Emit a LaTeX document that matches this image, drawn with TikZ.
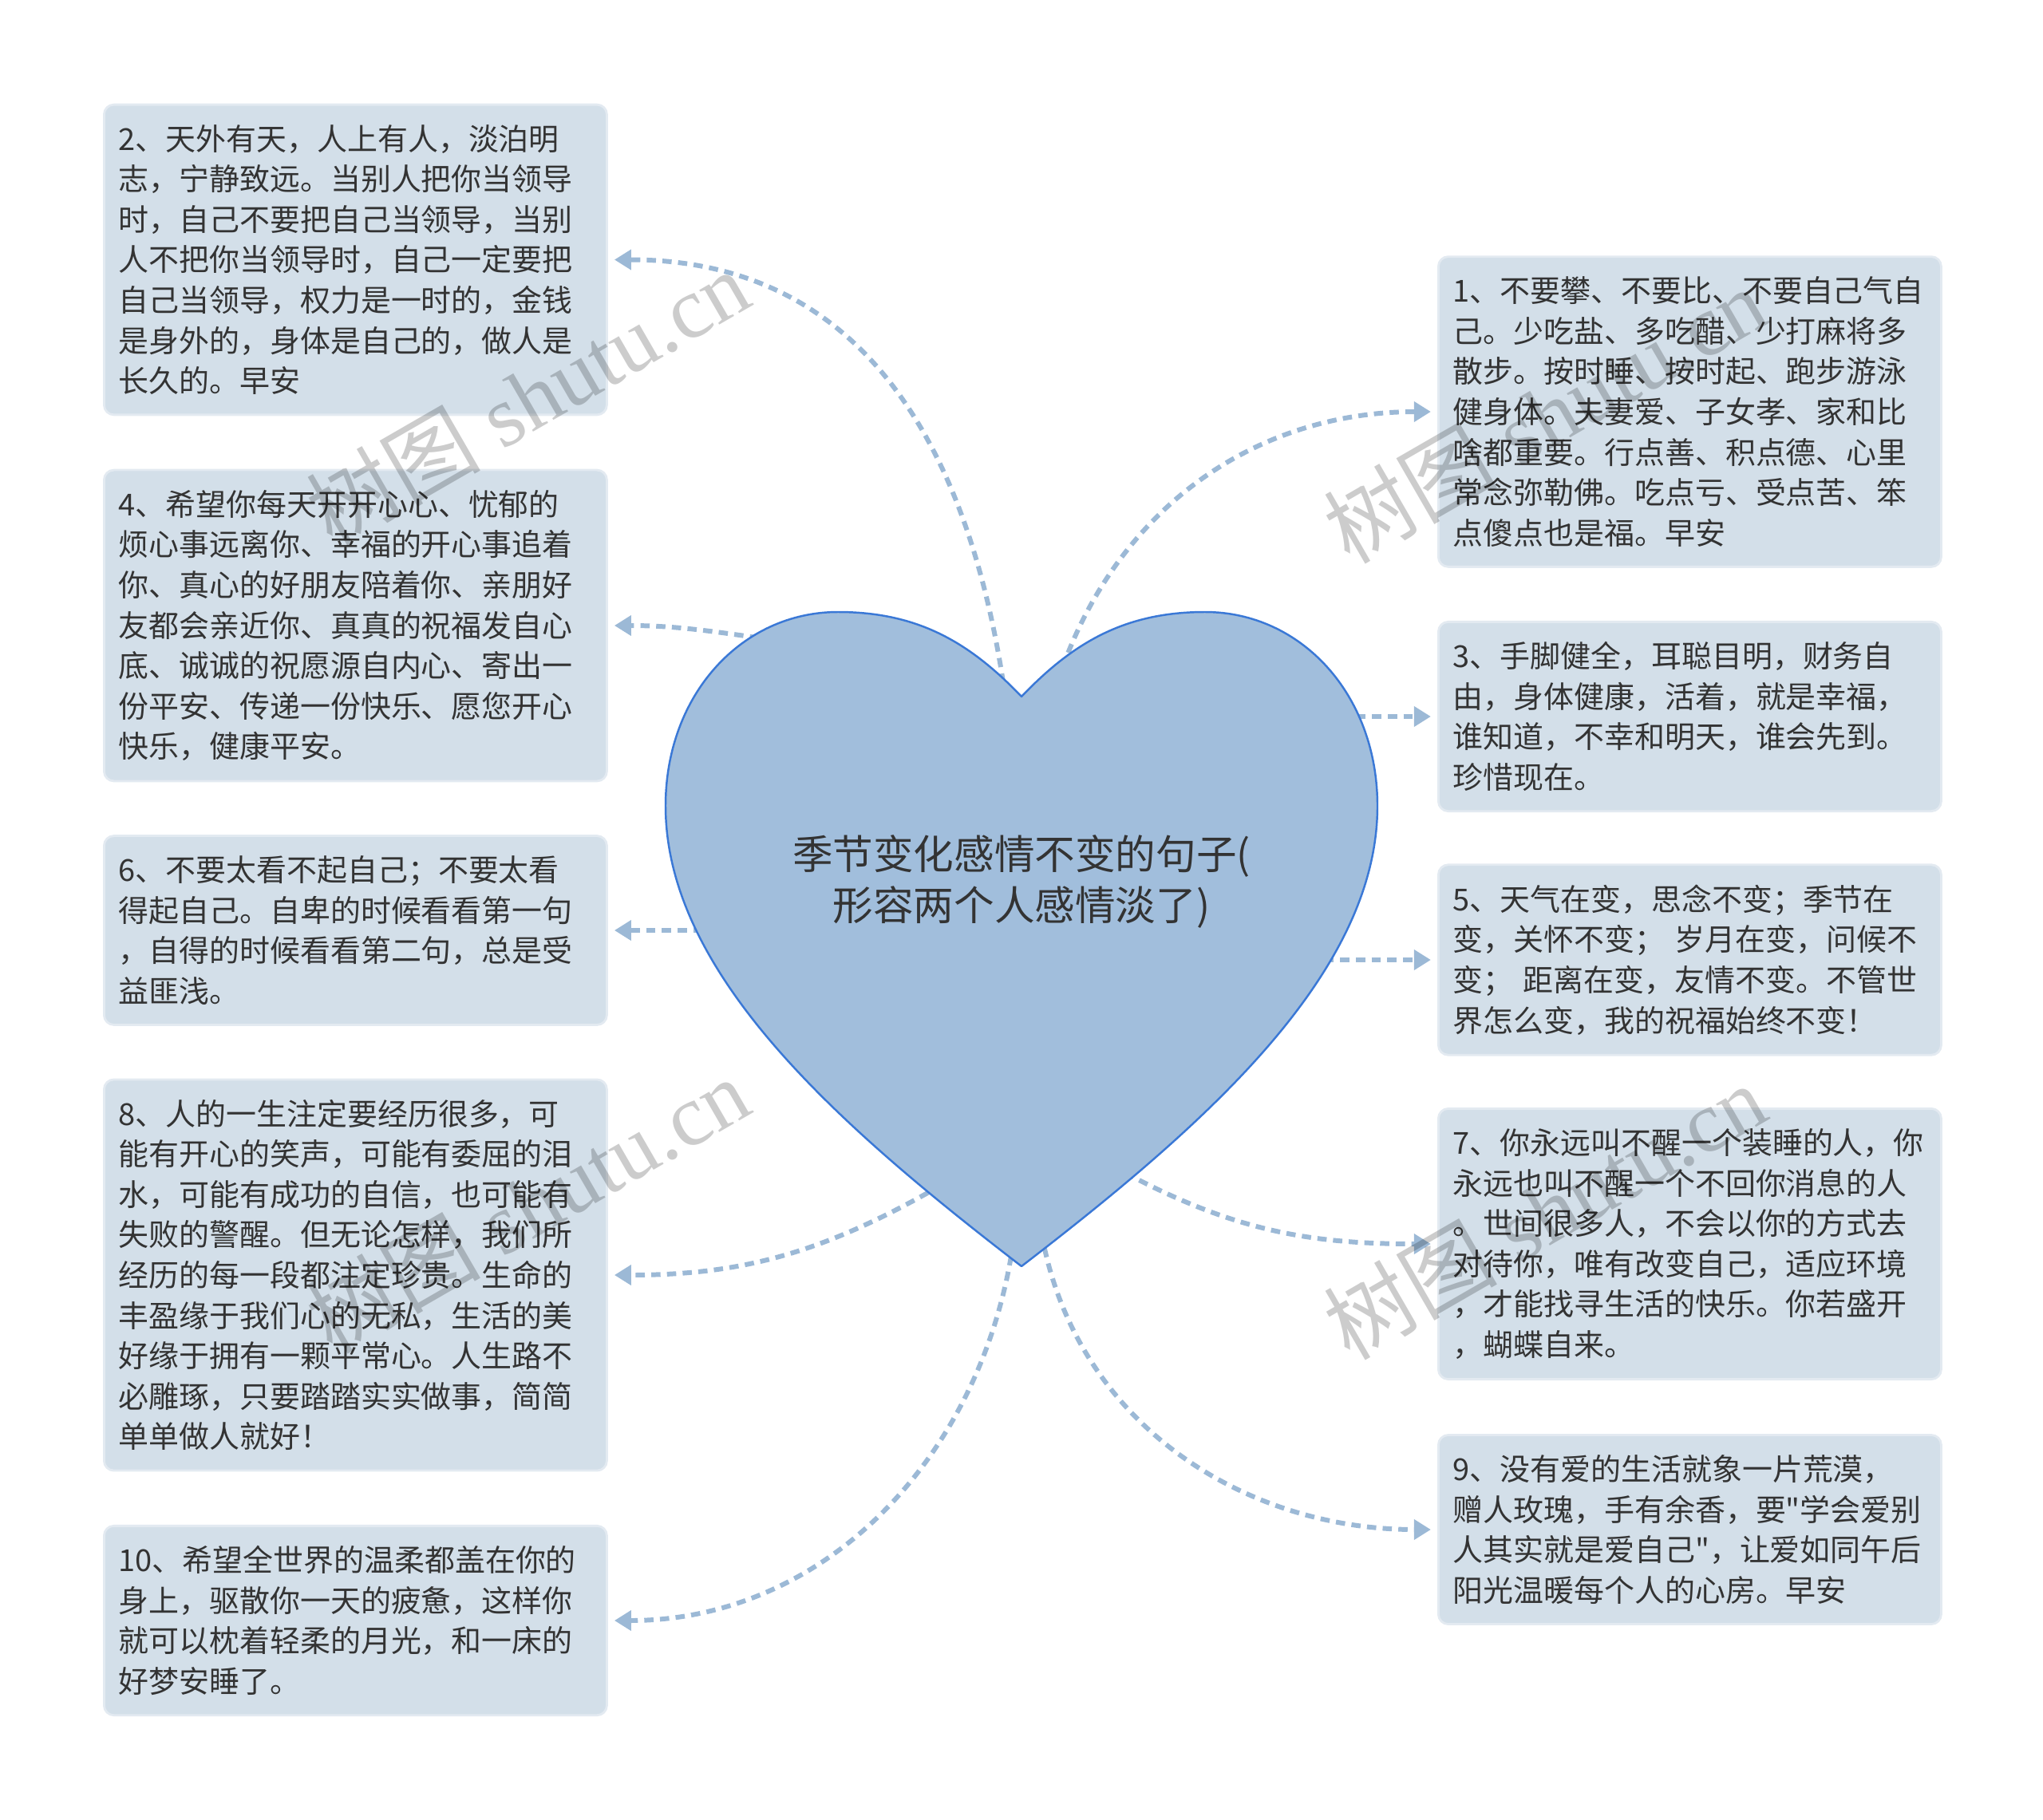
\documentclass[tikz,border=0pt]{standalone}
\usepackage{fontspec}
\newfontfamily\cjkfont{Noto Sans CJK SC}
\newfontfamily\markfont{Liberation Serif}
\usetikzlibrary{arrows.meta}
\definecolor{boxfill}{HTML}{D3DFE9}
\definecolor{boxline}{HTML}{E3EAF1}
\definecolor{linkblue}{HTML}{9CB9D6}
\definecolor{heartfill}{HTML}{A1BEDC}
\definecolor{heartline}{HTML}{3A78D6}
\definecolor{ink}{HTML}{333333}

\begin{document}
\begin{tikzpicture}[line join=round,
  leaf/.style={fill=boxfill, draw=boxline, line width=0.8pt, rounded corners=3.5pt,
    text width=5.94cm, inner xsep=0.18cm, inner ysep=0.25cm, align=left, text=ink,
    anchor=west, font=\cjkfont\fontsize{10.8pt}{14.4pt}\selectfont},
  link/.style={draw=linkblue, line width=1.7pt, dash pattern=on 3.3pt off 2.3pt,
    -{Triangle[length=6pt,width=7pt]}, shorten >=2.3pt},
  wmark/.style={rotate=30, text=black, opacity=0.2,
    font=\markfont\fontsize{31pt}{31pt}\selectfont}]
  \useasboundingbox (0,0) rectangle (25.6,-22.8);

  \node[leaf] (n2) at (1.29,-3.255) {2、天外有天，人上有人，淡泊明\\志，宁静致远。当别人把你当领导\\时，自己不要把自己当领导，当别\\人不把你当领导时，自己一定要把\\自己当领导，权力是一时的，金钱\\是身外的，身体是自己的，做人是\\长久的。早安};
  \node[leaf] (n4) at (1.29,-7.84) {4、希望你每天开开心心、忧郁的\\烦心事远离你、幸福的开心事追着\\你、真心的好朋友陪着你、亲朋好\\友都会亲近你、真真的祝福发自心\\底、诚诚的祝愿源自内心、寄出一\\份平安、传递一份快乐、愿您开心\\快乐，健康平安。};
  \node[leaf] (n6) at (1.29,-11.66) {6、不要太看不起自己；不要太看\\得起自己。自卑的时候看看第一句\\，自得的时候看看第二句，总是受\\益匪浅。};
  \node[leaf] (n8) at (1.29,-15.98) {8、人的一生注定要经历很多，可\\能有开心的笑声，可能有委屈的泪\\水，可能有成功的自信，也可能有\\失败的警醒。但无论怎样，我们所\\经历的每一段都注定珍贵。生命的\\丰盈缘于我们心的无私，生活的美\\好缘于拥有一颗平常心。人生路不\\必雕琢，只要踏踏实实做事，简简\\单单做人就好！};
  \node[leaf] (n10) at (1.29,-20.31) {10、希望全世界的温柔都盖在你的\\身上，驱散你一天的疲惫，这样你\\就可以枕着轻柔的月光，和一床的\\好梦安睡了。};

  \node[leaf] (n1) at (18.01,-5.16) {1、不要攀、不要比、不要自己气自\\己。少吃盐、多吃醋、少打麻将多\\散步。按时睡、按时起、跑步游泳\\健身体。夫妻爱、子女孝、家和比\\啥都重要。行点善、积点德、心里\\常念弥勒佛。吃点亏、受点苦、笨\\点傻点也是福。早安};
  \node[leaf] (n3) at (18.01,-8.98) {3、手脚健全，耳聪目明，财务自\\由，身体健康，活着，就是幸福，\\谁知道，不幸和明天，谁会先到。\\珍惜现在。};
  \node[leaf] (n5) at (18.01,-12.03) {5、天气在变，思念不变；季节在\\变，关怀不变； 岁月在变，问候不\\变； 距离在变，友情不变。不管世\\界怎么变，我的祝福始终不变！};
  \node[leaf] (n7) at (18.01,-15.59) {7、你永远叫不醒一个装睡的人，你\\永远也叫不醒一个不回你消息的人\\。世间很多人，不会以你的方式去\\对待你，唯有改变自己，适应环境\\，才能找寻生活的快乐。你若盛开\\，蝴蝶自来。};
  \node[leaf] (n9) at (18.01,-19.17) {9、没有爱的生活就象一片荒漠，\\赠人玫瑰，手有余香，要"学会爱别\\人其实就是爱自己"，让爱如同午后\\阳光温暖每个人的心房。早安};

  \coordinate (s2) at (12.60,-8.75);
  \coordinate (s4) at (9.90,-8.05);
  \coordinate (s6) at (9.00,-11.66);
  \coordinate (s8) at (11.80,-14.85);
  \coordinate (s10) at (12.70,-15.55);
  \coordinate (s1) at (13.25,-8.55);
  \coordinate (s3) at (16.80,-8.98);
  \coordinate (s5) at (16.40,-12.03);
  \coordinate (s7) at (14.10,-14.70);
  \coordinate (s9) at (13.05,-15.45);

  \draw[link] (s2) to[out=98,in=0,looseness=1.1] (n2.east);
  \draw[link] (s4) to[out=172,in=0] (n4.east);
  \draw[link] (s6) -- (n6.east);
  \draw[link] (s8) to[out=210,in=0] (n8.east);
  \draw[link] (s10) to[out=262,in=0] (n10.east);
  \draw[link] (s1) to[out=72,in=180] (n1.west);
  \draw[link] (s3) -- (n3.west);
  \draw[link] (s5) -- (n5.west);
  \draw[link] (s7) to[out=-28,in=180] (n7.west);
  \draw[link] (s9) to[out=-80,in=180] (n9.west);

  \draw[fill=heartfill, draw=heartline, line width=0.7pt] (12.80,-8.73)
    .. controls (12.15,-8.05) and (11.50,-7.67) .. (10.50,-7.67)
    .. controls (9.30,-7.67) and (8.34,-8.70) .. (8.34,-10.10)
    .. controls (8.34,-12.20) and (10.50,-14.10) .. (12.80,-15.87)
    .. controls (15.10,-14.10) and (17.26,-12.20) .. (17.26,-10.10)
    .. controls (17.26,-8.70) and (16.30,-7.67) .. (15.10,-7.67)
    .. controls (14.10,-7.67) and (13.45,-8.05) .. (12.80,-8.73) -- cycle;
  \node[text=ink, align=center, font=\cjkfont\fontsize{14.4pt}{18pt}\selectfont] (title) at (12.80,-11.05) {季节变化感情不变的句子(\\形容两个人感情淡了)};

  \node[wmark] (wm1) at (6.61,-4.98) {{\cjkfont 树图} shutu.cn};
  \node[wmark] (wm2) at (19.35,-5.20) {{\cjkfont 树图} shutu.cn};
  \node[wmark] (wm3) at (6.61,-15.10) {{\cjkfont 树图} shutu.cn};
  \node[wmark] (wm4) at (19.35,-15.18) {{\cjkfont 树图} shutu.cn};
\end{tikzpicture}
\end{document}
